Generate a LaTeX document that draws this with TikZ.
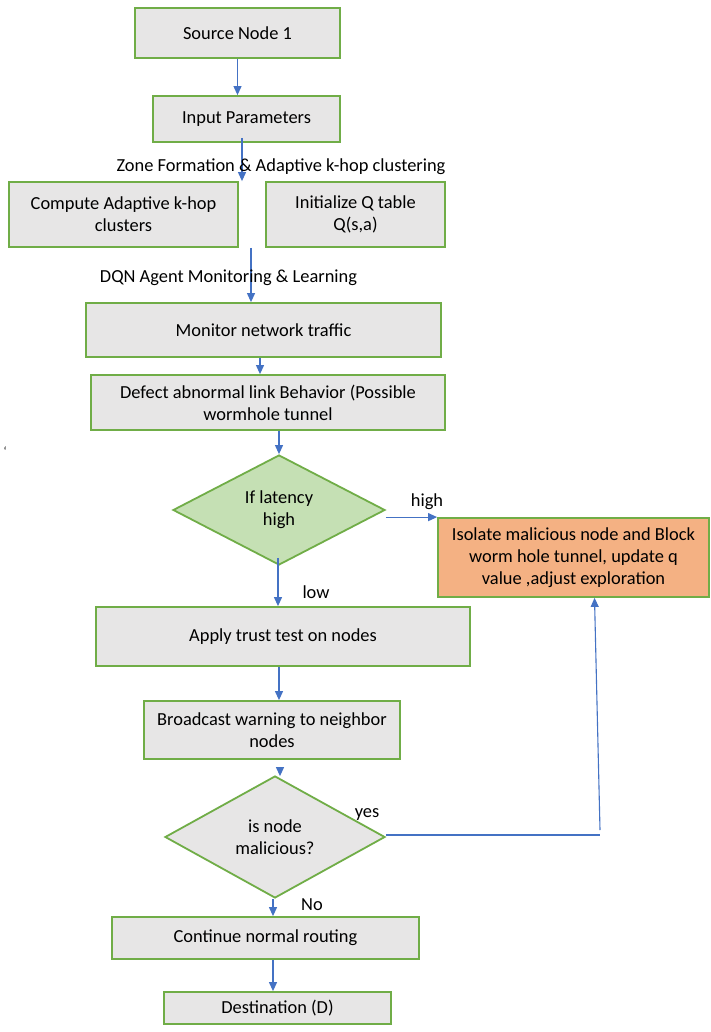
\documentclass[tikz,border=0pt]{standalone}
\usepackage{fontspec}
\setmainfont{Carlito}
\usetikzlibrary{shapes.geometric,arrows.meta}

\definecolor{boxgray}{HTML}{E7E6E6}
\definecolor{boxgreen}{HTML}{70AD47}
\definecolor{diagreen}{HTML}{C5E0B4}
\definecolor{actorange}{HTML}{F4B183}
\definecolor{linkblue}{HTML}{4472C4}

\begin{document}
\begin{tikzpicture}[x=1pt,y=-1pt,
  every node/.style={font=\fontsize{18.4}{22}\selectfont, inner sep=0pt},
  stepbox/.style={draw=boxgreen, line width=1.8pt, fill=boxgray, rectangle, align=center},
  actbox/.style={stepbox, fill=actorange},
  decision/.style={draw=boxgreen, line width=1.8pt, shape=diamond, align=center},
  flow/.style={draw=linkblue, line width=1.1pt, -{Triangle[length=9pt,width=8pt]}},
  plainflow/.style={draw=linkblue, line width=1.1pt},
  tag/.style={text=black}
]
% page area
\path[use as bounding box, fill=white] (0,0) rectangle (711,1032);

% process steps
\node[stepbox, minimum width=205pt, minimum height=50pt] (src) at (237.5,33) {Source Node 1};
\node[stepbox, minimum width=187pt, minimum height=46pt] (inp) at (246.5,119) {Input Parameters};
\node[stepbox, minimum width=229pt, minimum height=65pt] (cmp) at (123.5,214.5) {Compute Adaptive k-hop\\clusters};
\node[stepbox, minimum width=179pt, minimum height=65pt] (ini) at (355.5,214.5) {Initialize Q table\\Q(s,a)};
\node[stepbox, minimum width=355pt, minimum height=54pt] (mon) at (263.5,330) {Monitor network traffic};
\node[stepbox, minimum width=354pt, minimum height=55pt] (dfc) at (268,402.5) {Defect abnormal link Behavior (Possible\\wormhole tunnel};
\node[decision, fill=diagreen, minimum width=212pt, minimum height=110pt, aspect=1.93] (lat) at (279,510) {If latency\\high};
\node[actbox, minimum width=271pt, minimum height=79pt] (iso) at (573.5,557.5) {Isolate malicious node and Block\\worm hole tunnel, update q\\value ,adjust exploration};
\node[stepbox, minimum width=374pt, minimum height=59pt] (app) at (283,636.5) {Apply trust test on nodes};
\node[stepbox, minimum width=256pt, minimum height=58pt] (brd) at (272,730) {Broadcast warning to neighbor\\nodes};
\node[decision, fill=boxgray, minimum width=220pt, minimum height=122pt, aspect=1.8] (mal) at (275,837) {is node\\malicious?};
\node[stepbox, minimum width=307pt, minimum height=42pt] (cnt) at (265.5,938) {Continue normal routing};
\node[stepbox, minimum width=227pt, minimum height=32pt] (dst) at (277.5,1008) {Destination (D)};

% connectors
\draw[flow] (src.south) -- (src.south |- inp.north);
\draw[flow] ([xshift=-4.5pt,yshift=5pt]inp.south) -- ([xshift=-4.5pt]inp.south |- cmp.north);
\draw[flow] ([xshift=-12.5pt]mon.north |- cmp.south) -- ([xshift=-12.5pt]mon.north);
\draw[flow] ([xshift=-3.5pt]mon.south) -- ([xshift=-3.5pt]mon.south |- dfc.north);
\draw[flow] (lat.north |- dfc.south) -- (lat.north);
\draw[flow] (lat.east |- iso.north west) -- (iso.north west);
\draw[flow] ([xshift=-1pt,yshift=8pt]lat.south) -- ([xshift=-1pt]lat.south |- app.north);
\draw[flow] ([xshift=-4pt]app.south) -- ([xshift=-4pt]app.south |- brd.north);
\draw[flow] ([xshift=8pt,yshift=-7pt]brd.south) -- ([xshift=8pt,yshift=-1pt]brd.south |- mal.north);
\coordinate (ybend) at (600,835);
\draw[plainflow] ([yshift=2pt]mal.east) -- (ybend);
\draw[flow] ([yshift=5pt]ybend) -- ([xshift=21pt]iso.south);
\draw[flow] ([xshift=-2pt]mal.south) -- ([xshift=-2pt]mal.south |- cnt.north);
\draw[flow] ([xshift=7.5pt]cnt.south) -- ([xshift=7.5pt]cnt.south |- dst.north);

% phase and branch labels
\node[tag] (zone) at (281,167) {Zone Formation \& Adaptive k-hop clustering};
\node[tag] (dqn) at (228.5,278) {DQN Agent Monitoring \& Learning};
\node[tag] (hi) at (427,502) {high};
\node[tag] (lo) at (316,592) {low};
\node[tag] (yes) at (367,815) {yes};
\node[tag] (no) at (312,905) {No};
\node[tag, font=\fontsize{12}{14}\selectfont] (tick) at (5,451) {`};
\end{tikzpicture}
\end{document}
